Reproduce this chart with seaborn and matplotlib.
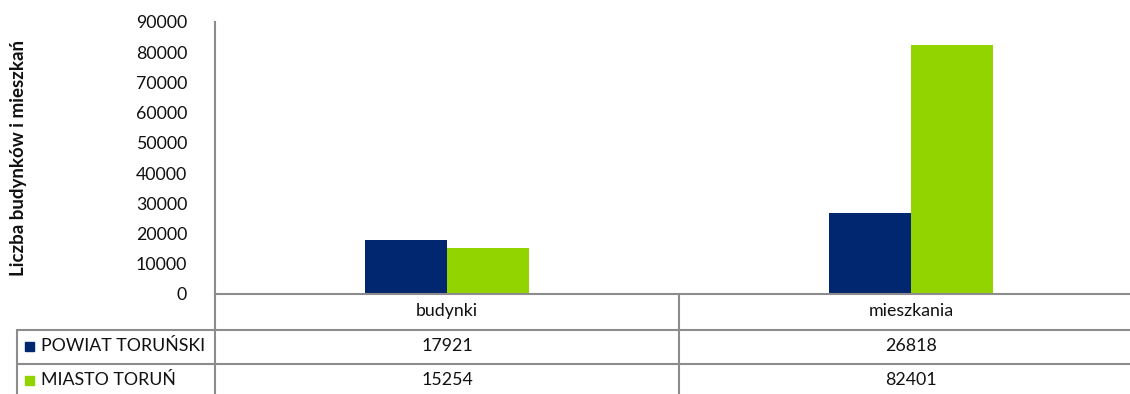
import matplotlib
matplotlib.use("Agg")
import matplotlib.pyplot as plt
import seaborn as sns
import pandas as pd
from matplotlib.patches import Rectangle

categories = ["budynki", "mieszkania"]
series_names = ["POWIAT TORUŃSKI", "MIASTO TORUŃ"]
powiat_values = [17921, 26818]
miasto_values = [15254, 82401]
y_ticks = [0, 10000, 20000, 30000, 40000, 50000, 60000, 70000, 80000, 90000]

colors = ["#00276F", "#92D400"]
line_col = "#8C8C8C"
txt_col = "#111111"
fs = 12.8

df = pd.DataFrame({
    "kategoria": categories * 2,
    "seria": [series_names[0]] * 2 + [series_names[1]] * 2,
    "liczba": powiat_values + miasto_values,
})

sns.set_theme(style="white")
plt.rcParams["font.family"] = ["Lato", "DejaVu Sans"]

W, H = 1130, 394
fig = plt.figure(figsize=(W / 100, H / 100), dpi=100)

x0, x1 = 215, 1143
y_top, y_bot = 22, 294
ax = fig.add_axes([x0 / W, 1 - y_bot / H, (x1 - x0) / W, (y_bot - y_top) / H])

sns.barplot(data=df, x="kategoria", y="liczba", hue="seria",
            palette=colors, width=0.354, saturation=1, ax=ax,
            legend=False, errorbar=None, linewidth=0)

ax.set_ylim(0, 90000)
ax.set_xlim(-0.5, 1.5)
ax.set_yticks(y_ticks)
ax.set_yticklabels([str(v) for v in y_ticks], fontsize=fs, color=txt_col)
ax.tick_params(axis="y", length=0, pad=20)
ax.set_xticks([])
ax.set_xlabel("")
ax.set_ylabel("")
for s in ["top", "right"]:
    ax.spines[s].set_visible(False)
for s in ["left", "bottom"]:
    ax.spines[s].set_color(line_col)
    ax.spines[s].set_linewidth(1.5)

fig.text(19 / W, 1 - 158 / H, "Liczba budynków i mieszkań", rotation=90,
         ha="center", va="center", fontsize=13.5, fontweight="bold", color=txt_col)

# data table under the chart, drawn in pixel coordinates
def px(x, y):
    return x / W, 1 - y / H

def hline(xa, xb, y):
    fig.add_artist(plt.Line2D([xa / W, xb / W], [1 - y / H, 1 - y / H],
                              color=line_col, lw=1.5))

def vline(x, ya, yb):
    fig.add_artist(plt.Line2D([x / W, x / W], [1 - ya / H, 1 - yb / H],
                              color=line_col, lw=1.5))

col_mid = 679
hline(17, W + 5, 330)
hline(17, W + 5, 364)
vline(17, 330, 400)
vline(x0, 294, 400)
vline(col_mid, 294, 400)

centers = [(x0 + col_mid) / 2, (col_mid + x1) / 2]
for c, cat in zip(centers, categories):
    fig.text(*px(c, 311), cat, ha="center", va="center", fontsize=fs, color=txt_col)

rows = [powiat_values, miasto_values]
row_mid = [346, 380]
for i, (name, vals) in enumerate(zip(series_names, rows)):
    ym = row_mid[i]
    fig.add_artist(Rectangle(px(25, ym + 5), 9 / W, 9 / H, color=colors[i],
                             transform=fig.transFigure))
    fig.text(*px(41, ym), name, ha="left", va="center", fontsize=fs, color=txt_col)
    for c, v in zip(centers, vals):
        fig.text(*px(c, ym), str(v), ha="center", va="center", fontsize=fs, color=txt_col)

fig.savefig("out.png", dpi=100)
